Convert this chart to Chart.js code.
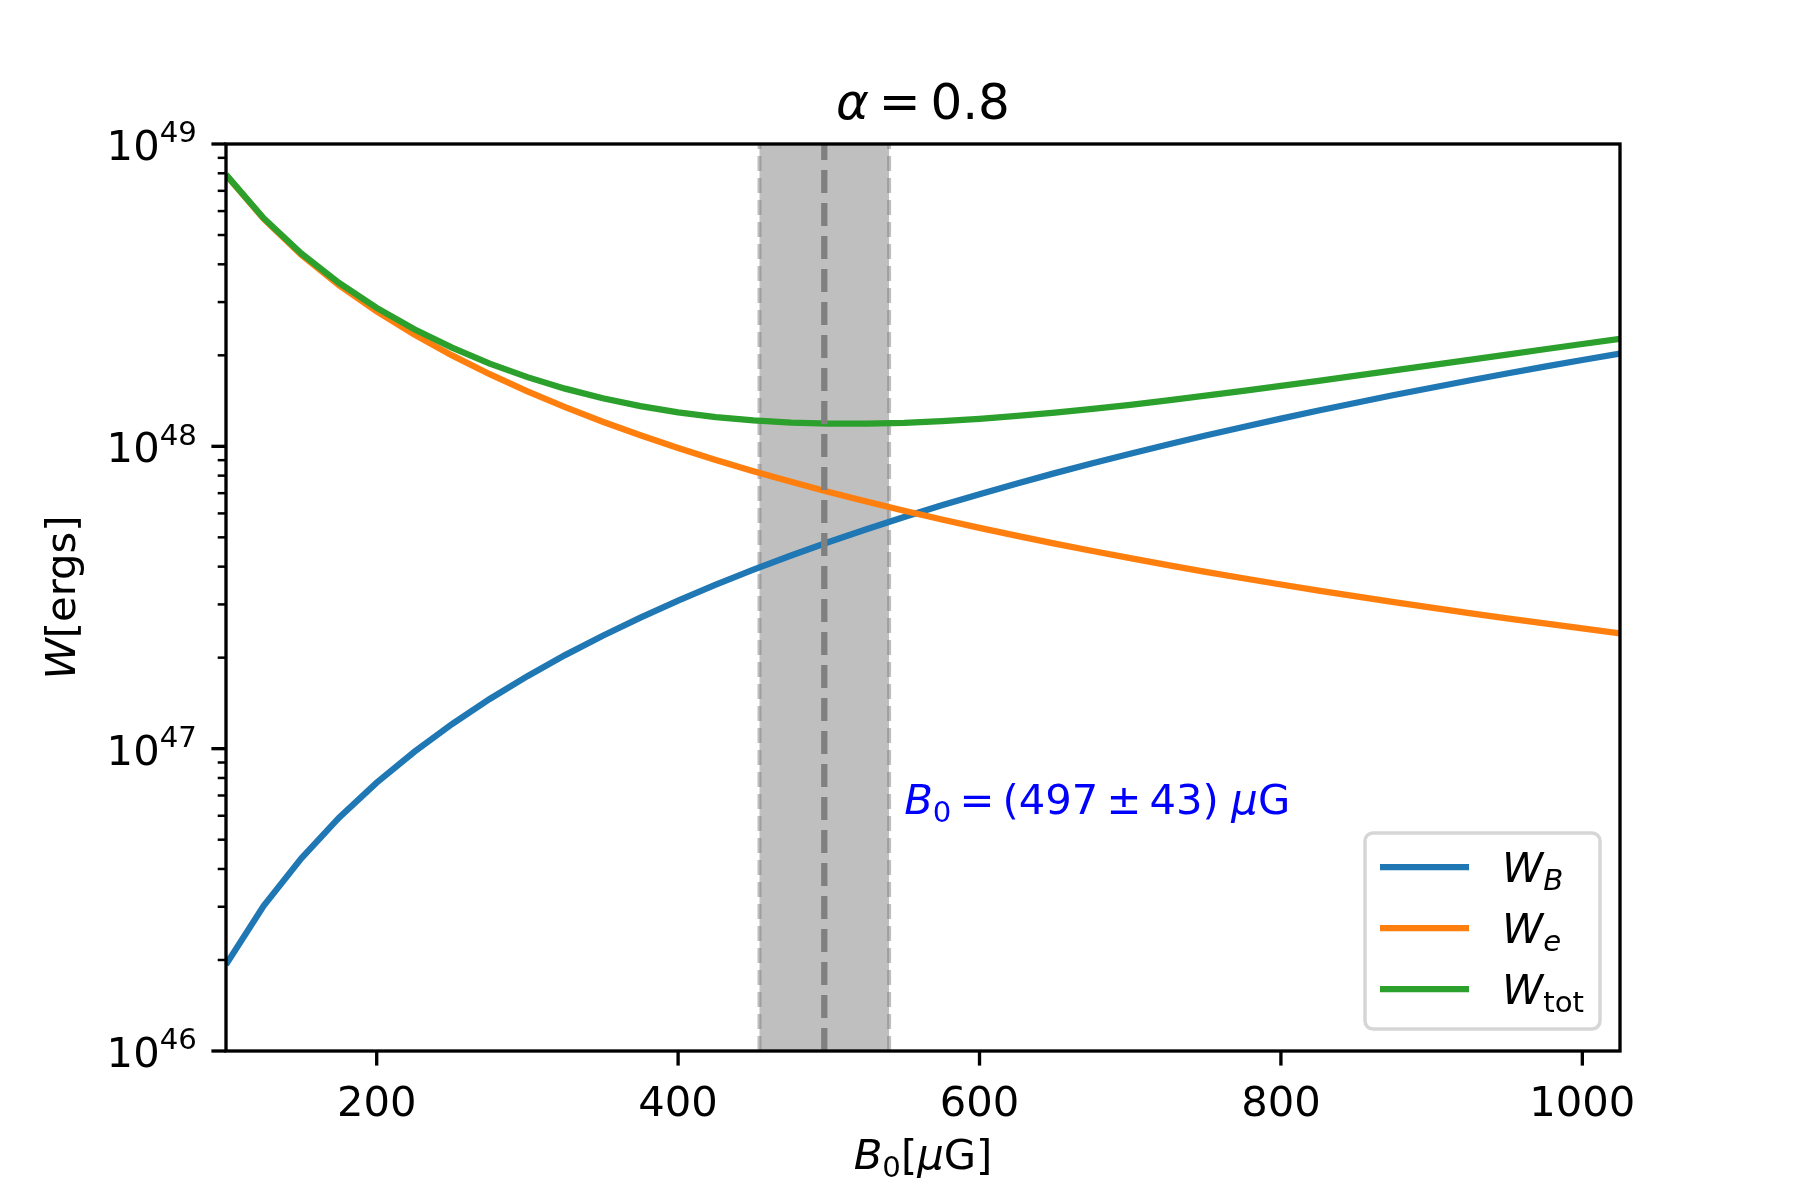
<!DOCTYPE html>
<html>
<head>
<meta charset="utf-8">
<script src="https://cdn.jsdelivr.net/npm/chart.js@4.4.0/dist/chart.umd.min.js"></script>
<style>
  html, body { margin: 0; padding: 0; background: #fff; }
  canvas { display: block; }
</style>
</head>
<body>
<canvas id="chart" width="1800" height="1200"></canvas>
<script>
// values
const B0 = [100, 125, 150, 175, 200, 225, 250, 275, 300, 325, 350, 375, 400, 425, 450, 475,
            500, 525, 550, 575, 600, 625, 650, 675, 700, 725, 750, 775, 800, 825, 850, 875,
            900, 925, 950, 975, 1000, 1025];

const W_B = [1.93e46, 3.02e46, 4.34e46, 5.91e46, 7.72e46, 9.77e46, 1.206e47, 1.46e47,
             1.737e47, 2.039e47, 2.364e47, 2.714e47, 3.088e47, 3.486e47, 3.908e47, 4.355e47,
             4.825e47, 5.32e47, 5.838e47, 6.381e47, 6.948e47, 7.539e47, 8.154e47, 8.794e47,
             9.457e47, 1.014e48, 1.086e48, 1.159e48, 1.235e48, 1.314e48, 1.394e48, 1.478e48,
             1.563e48, 1.651e48, 1.742e48, 1.835e48, 1.93e48, 2.028e48];

const W_e = [7.9e48, 5.653e48, 4.3e48, 3.412e48, 2.793e48, 2.341e48, 1.999e48, 1.732e48,
             1.52e48, 1.348e48, 1.206e48, 1.088e48, 9.875e47, 9.017e47, 8.276e47, 7.631e47,
             7.066e47, 6.567e47, 6.125e47, 5.73e47, 5.375e47, 5.056e47, 4.767e47, 4.505e47,
             4.266e47, 4.047e47, 3.846e47, 3.662e47, 3.491e47, 3.334e47, 3.188e47, 3.052e47,
             2.926e47, 2.808e47, 2.698e47, 2.595e47, 2.498e47, 2.407e47];

const W_tot = [7.919e48, 5.683e48, 4.343e48, 3.471e48, 2.87e48, 2.439e48, 2.12e48, 1.878e48,
               1.694e48, 1.552e48, 1.442e48, 1.359e48, 1.296e48, 1.25e48, 1.218e48, 1.199e48,
               1.189e48, 1.189e48, 1.196e48, 1.211e48, 1.232e48, 1.26e48, 1.292e48, 1.33e48,
               1.372e48, 1.419e48, 1.471e48, 1.525e48, 1.584e48, 1.647e48, 1.713e48, 1.783e48,
               1.856e48, 1.932e48, 2.012e48, 2.095e48, 2.18e48, 2.269e48];

const xTicks = [200, 400, 600, 800, 1000];
const yDecades = [46, 47, 48, 49];
const yMinorMult = [2, 3, 4, 5, 6, 7, 8, 9];

const bestB = 497;
const errB = 43;
const noteX = 550;
const noteY = 6.1e46;

const FONT = 'DejaVu Sans';
const FS = 41.7;
const OP = 0.195;   // space around = and ± (fraction of font size)

function fnt(size, italic) {
  return (italic ? 'italic ' : '') + size + 'px "' + FONT + '"';
}

// simple mathtext-like runs: {t, it, sub, sup} or {gap}
function runSize(r, size) { return (r.sub || r.sup) ? size * 0.7 : size; }

function runW(c, r, size) {
  if (r.gap) return r.gap * size;
  c.font = fnt(runSize(r, size), r.it);
  return c.measureText(r.t).width;
}

function drawRuns(c, runs, x, y, size, align) {
  let w = 0;
  runs.forEach(r => { w += runW(c, r, size); });
  let cx = align === 'center' ? x - w / 2 : (align === 'right' ? x - w : x);
  c.textAlign = 'left';
  c.textBaseline = 'alphabetic';
  runs.forEach(r => {
    if (!r.gap) {
      const dy = r.sub ? size * 0.2 : (r.sup ? -size * 0.42 : 0);
      c.font = fnt(runSize(r, size), r.it);
      c.fillText(r.t, cx, y + dy);
    }
    cx += runW(c, r, size);
  });
}

const series = [
  { label: 'W_B', data: W_B, color: '#1f77b4', runs: [{t: 'W', it: true}, {t: 'B', it: true, sub: true}] },
  { label: 'W_e', data: W_e, color: '#ff7f0e', runs: [{t: 'W', it: true}, {t: 'e', it: true, sub: true}] },
  { label: 'W_tot', data: W_tot, color: '#2ca02c', runs: [{t: 'W', it: true}, {t: 'tot', sub: true}] }
];

const decorPlugin = {
  id: 'decor',
  beforeDatasetsDraw(chart) {
    const c = chart.ctx, a = chart.chartArea, x = chart.scales.x;
    const x0 = x.getPixelForValue(bestB - errB), x1 = x.getPixelForValue(bestB + errB);
    c.save();
    c.fillStyle = 'rgba(128,128,128,0.5)';
    c.fillRect(x0, a.top, x1 - x0, a.bottom - a.top);
    c.strokeStyle = 'rgba(128,128,128,0.5)';
    c.lineWidth = 4;
    c.setLineDash([15, 7]);
    [x0, x1].forEach(px => {
      c.beginPath(); c.moveTo(px, a.bottom); c.lineTo(px, a.top); c.stroke();
    });
    c.restore();
  },
  afterDatasetsDraw(chart) {
    const c = chart.ctx, a = chart.chartArea, x = chart.scales.x;
    const px = x.getPixelForValue(bestB);
    c.save();
    c.strokeStyle = '#808080';
    c.lineWidth = 6.25;
    c.setLineDash([23, 10]);
    c.beginPath(); c.moveTo(px, a.bottom); c.lineTo(px, a.top); c.stroke();
    c.restore();
  },
  afterDraw(chart) {
    const c = chart.ctx, a = chart.chartArea, x = chart.scales.x, y = chart.scales.y;
    c.save();
    c.fillStyle = '#000';
    c.strokeStyle = '#000';

    // frame
    c.lineWidth = 3.33;
    c.strokeRect(a.left, a.top, a.right - a.left, a.bottom - a.top);

    // x ticks
    xTicks.forEach(v => {
      const px = x.getPixelForValue(v);
      c.beginPath(); c.moveTo(px, a.bottom); c.lineTo(px, a.bottom + 14.6); c.stroke();
    });

    // y ticks, major + minor, and labels 10^n
    yDecades.forEach(n => {
      const py = y.getPixelForValue(Math.pow(10, n));
      c.lineWidth = 3.33;
      c.beginPath(); c.moveTo(a.left, py); c.lineTo(a.left - 14.6, py); c.stroke();
      drawRuns(c, [{t: '10'}, {t: String(n), sup: true}], a.left - 29.2, py + 16, FS, 'right');
      if (n < 49) {
        c.lineWidth = 2.5;
        yMinorMult.forEach(m => {
          const pm = y.getPixelForValue(m * Math.pow(10, n));
          c.beginPath(); c.moveTo(a.left, pm); c.lineTo(a.left - 8.3, pm); c.stroke();
        });
      }
    });

    // title
    drawRuns(c, [{t: 'α', it: true}, {gap: OP}, {t: '='}, {gap: OP}, {t: '0.8'}],
             (a.left + a.right) / 2, a.top - 25, 50, 'center');

    // axis labels
    drawRuns(c, [{t: 'B', it: true}, {t: '0', sub: true}, {t: '['}, {t: 'μ', it: true}, {t: 'G]'}],
             (a.left + a.right) / 2, 1169, FS, 'center');
    c.save();
    c.translate(75, (a.top + a.bottom) / 2);
    c.rotate(-Math.PI / 2);
    drawRuns(c, [{t: 'W', it: true}, {t: '[ergs]'}], 0, 0, FS, 'center');
    c.restore();

    // annotation
    c.fillStyle = '#0000ff';
    drawRuns(c, [{t: 'B', it: true}, {t: '0', sub: true}, {gap: OP}, {t: '='}, {gap: OP},
                 {t: '(' + bestB}, {gap: OP}, {t: '±'}, {gap: OP}, {t: errB + ')'}, {gap: 0.3},
                 {t: 'μ', it: true}, {t: 'G'}],
             x.getPixelForValue(noteX), y.getPixelForValue(noteY), FS, 'left');

    // legend
    const lx = 1365, ly = 833, lw = 235, lh = 196, r = 8;
    c.fillStyle = 'rgba(255,255,255,0.8)';
    c.strokeStyle = '#d6d6d6';
    c.lineWidth = 3.5;
    c.beginPath();
    c.roundRect(lx, ly, lw, lh, r);
    c.fill();
    c.stroke();
    series.forEach((s, i) => {
      const cy = 867 + i * 61;
      c.strokeStyle = s.color;
      c.lineWidth = 6.25;
      c.beginPath(); c.moveTo(1380, cy); c.lineTo(1469, cy); c.stroke();
      c.fillStyle = '#000';
      drawRuns(c, s.runs, 1502, cy + 15, FS, 'left');
    });
    c.restore();
  }
};

const chart = new Chart(document.getElementById('chart'), {
  type: 'line',
  data: {
    datasets: series.map((s, i) => ({
      label: s.label,
      data: B0.map((b, k) => ({ x: b, y: s.data[k] })),
      borderColor: s.color,
      backgroundColor: s.color,
      borderWidth: 6.25,
      pointRadius: 0,
      tension: 0,
      fill: false,
      order: 3 - i
    }))
  },
  options: {
    responsive: false,
    animation: false,
    devicePixelRatio: 1,
    layout: { padding: { left: 0, right: 180, top: 144, bottom: 0 } },
    plugins: { legend: { display: false }, title: { display: false }, tooltip: { enabled: false } },
    scales: {
      x: {
        type: 'linear',
        min: 100,
        max: 1025,
        grid: { display: false, drawTicks: false },
        border: { display: false },
        afterBuildTicks: s => { s.ticks = xTicks.map(v => ({ value: v })); },
        afterFit: s => { s.height = 149; },
        ticks: {
          autoSkip: false,
          maxRotation: 0,
          padding: 29,
          color: '#000',
          font: { family: FONT, size: FS },
          callback: v => String(v)
        }
      },
      y: {
        type: 'logarithmic',
        min: 1e46,
        max: 1e49,
        grid: { display: false, drawTicks: false },
        border: { display: false },
        afterFit: s => { s.width = 226; },
        ticks: { display: false }
      }
    }
  },
  plugins: [decorPlugin]
});
</script>
</body>
</html>
